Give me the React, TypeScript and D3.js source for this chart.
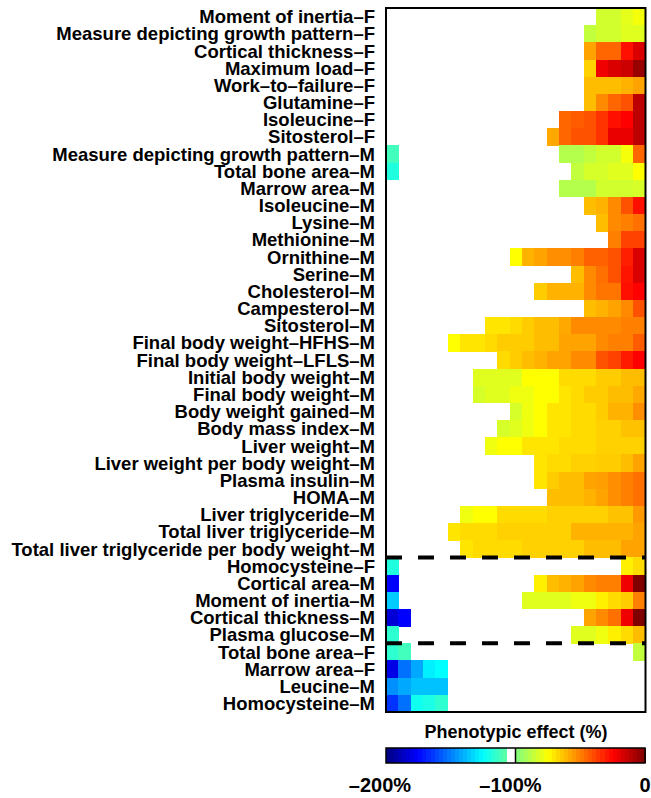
import React from "react";
import * as d3 from "d3";

const _ = null;

// phenotype rows, top to bottom
const phenotypes = [
  "Moment of inertia–F",
  "Measure depicting growth pattern–F",
  "Cortical thickness–F",
  "Maximum load–F",
  "Work–to–failure–F",
  "Glutamine–F",
  "Isoleucine–F",
  "Sitosterol–F",
  "Measure depicting growth pattern–M",
  "Total bone area–M",
  "Marrow area–M",
  "Isoleucine–M",
  "Lysine–M",
  "Methionine–M",
  "Ornithine–M",
  "Serine–M",
  "Cholesterol–M",
  "Campesterol–M",
  "Sitosterol–M",
  "Final body weight–HFHS–M",
  "Final body weight–LFLS–M",
  "Initial body weight–M",
  "Final body weight–M",
  "Body weight gained–M",
  "Body mass index–M",
  "Liver weight–M",
  "Liver weight per body weight–M",
  "Plasma insulin–M",
  "HOMA–M",
  "Liver triglyceride–M",
  "Total liver triglyceride–M",
  "Total liver triglyceride per body weight–M",
  "Homocysteine–F",
  "Cortical area–M",
  "Moment of inertia–M",
  "Cortical thickness–M",
  "Plasma glucose–M",
  "Total bone area–F",
  "Marrow area–F",
  "Leucine–M",
  "Homocysteine–M",
];

const columns = d3.range(21);

// phenotypic effect (%) per row and column, null = no effect
const effects: (number | null)[][] = [
  [_, _, _, _, _, _, _, _, _, _, _, _, _, _, _, _, _, -84, -84, -80, -77],
  [_, _, _, _, _, _, _, _, _, _, _, _, _, _, _, _, -87, -84, -84, -81, -81],
  [_, _, _, _, _, _, _, _, _, _, _, _, _, _, _, _, -57, -45, -45, -28, -18],
  [_, _, _, _, _, _, _, _, _, _, _, _, _, _, _, _, -66, -22, -18, -15, -5],
  [_, _, _, _, _, _, _, _, _, _, _, _, _, _, _, _, -62, -62, -62, -60, -57],
  [_, _, _, _, _, _, _, _, _, _, _, _, _, _, _, _, -62, -52, -45, -41, -12],
  [_, _, _, _, _, _, _, _, _, _, _, _, _, _, -45, -43, -41, -35, -28, -25, -12],
  [_, _, _, _, _, _, _, _, _, _, _, _, _, -58, -45, -41, -41, -35, -21, -21, -12],
  [-112, _, _, _, _, _, _, _, _, _, _, _, _, _, -90, -90, -87, -84, -84, -77, -45],
  [-119, _, _, _, _, _, _, _, _, _, _, _, _, _, _, -87, -83, -83, -81, -81, -75],
  [_, _, _, _, _, _, _, _, _, _, _, _, _, _, -90, -90, -90, -84, -84, -84, -83],
  [_, _, _, _, _, _, _, _, _, _, _, _, _, _, _, _, -62, -60, -52, -41, -28],
  [_, _, _, _, _, _, _, _, _, _, _, _, _, _, _, _, _, -62, -52, -50, -47],
  [_, _, _, _, _, _, _, _, _, _, _, _, _, _, _, _, _, _, -50, -38, -38],
  [_, _, _, _, _, _, _, _, _, _, -75, -60, -57, -53, -53, -50, -44, -44, -41, -31, -18],
  [_, _, _, _, _, _, _, _, _, _, _, _, _, _, _, -62, -52, -47, -41, -29, -18],
  [_, _, _, _, _, _, _, _, _, _, _, _, -65, -60, -60, -60, -52, -48, -48, -28, -25],
  [_, _, _, _, _, _, _, _, _, _, _, _, _, _, _, _, -62, -60, -57, -52, -41],
  [_, _, _, _, _, _, _, _, -70, -70, -68, -65, -62, -62, -58, -52, -52, -52, -52, -50, -50],
  [_, _, _, _, _, -75, -70, -70, -68, -65, -65, -65, -62, -62, -57, -57, -57, -52, -50, -50, -43],
  [_, _, _, _, _, _, _, _, _, -68, -65, -62, -60, -57, -57, -52, -52, -41, -38, -30, -25],
  [_, _, _, _, _, _, _, -81, -81, -81, -81, -75, -75, -75, -68, -68, -68, -65, -65, -62, -62],
  [_, _, _, _, _, _, _, -83, -81, -81, -78, -78, -75, -75, -70, -68, -65, -65, -62, -62, -58],
  [_, _, _, _, _, _, _, _, _, _, -83, -78, -75, -70, -70, -68, -68, -65, -60, -60, -53],
  [_, _, _, _, _, _, _, _, _, -83, -81, -78, -75, -70, -70, -68, -68, -66, -66, -63, -63],
  [_, _, _, _, _, _, _, _, -78, -75, -75, -70, -70, -70, -68, -68, -68, -66, -66, -66, -66],
  [_, _, _, _, _, _, _, _, _, _, _, _, -70, -68, -68, -66, -66, -65, -65, -62, -57],
  [_, _, _, _, _, _, _, _, _, _, _, _, -70, -65, -62, -62, -57, -56, -53, -50, -47],
  [_, _, _, _, _, _, _, _, _, _, _, _, _, -62, -62, -62, -60, -57, -53, -50, -47],
  [_, _, _, _, _, _, -78, -75, -75, -68, -68, -68, -68, -66, -66, -66, -66, -66, -63, -63, -55],
  [_, _, _, _, _, -70, -68, -68, -68, -66, -66, -66, -66, -66, -66, -60, -60, -60, -60, -60, -57],
  [_, _, _, _, _, _, -70, -68, -68, -68, -68, -66, -66, -66, -66, -66, -62, -62, -62, -57, -57],
  [-119, _, _, _, _, _, _, _, _, _, _, _, _, _, _, _, _, _, _, -72, -68],
  [-175, _, _, _, _, _, _, _, _, _, _, _, -72, -62, -60, -57, -52, -50, -50, -22, 0],
  [-135, _, _, _, _, _, _, _, _, _, _, -81, -81, -81, -81, -78, -78, -72, -68, -65, -50],
  [-183, -175, _, _, _, _, _, _, _, _, _, _, _, _, _, _, -57, -52, -47, -22, 0],
  [-116, _, _, _, _, _, _, _, _, _, _, _, _, _, _, -81, -81, -78, -72, -68, -62],
  [-116, -112, _, _, _, _, _, _, _, _, _, _, _, _, _, _, _, _, _, _, -87],
  [-180, -153, -142, -128, -125, _, _, _, _, _, _, _, _, _, _, _, _, _, _, _, _],
  [-147, -142, -137, -137, -137, _, _, _, _, _, _, _, _, _, _, _, _, _, _, _, _],
  [-165, -153, -122, -120, -116, _, _, _, _, _, _, _, _, _, _, _, _, _, _, _, _],
];

// dashed separator drawn under these rows
const separatorsAfter = ["Total liver triglyceride per body weight–M", "Plasma glucose–M"];

const colorTicks = [-200, -100, 0];
const colorTickLabels = ["–200%", "–100%", "0"];

const font = "'Liberation Sans', Arial, Helvetica, sans-serif";

function jet(t: number) {
  const c = (v: number) => Math.round(255 * Math.max(0, Math.min(1, v)));
  const r = c(Math.min(4 * t - 1.5, -4 * t + 4.5));
  const g = c(Math.min(4 * t - 0.5, -4 * t + 3.5));
  const b = c(Math.min(4 * t + 0.5, -4 * t + 2.5));
  return `rgb(${r},${g},${b})`;
}

const toT = d3.scaleLinear().domain([-200, 0]).range([0, 1]).clamp(true);
function effectColor(v: number) {
  if (v > -107 && v < -99) return "#ffffff";
  return jet(toT(v));
}

export default function App() {
  const width = 651;
  const height = 798;

  const x = d3.scaleBand<number>().domain(columns).range([386, 645.5]);
  const y = d3.scaleBand<string>().domain(phenotypes).range([8, 712]);

  const cbar = d3.scaleLinear().domain([-200, 0]).range([386, 645]);
  const steps = d3.range(64);
  const stepW = (cbar.range()[1] - cbar.range()[0]) / steps.length;

  const cells: { row: string; col: number; v: number }[] = [];
  phenotypes.forEach((p, i) => {
    effects[i].forEach((v, j) => {
      if (v !== null) cells.push({ row: p, col: columns[j], v });
    });
  });

  return (
    <svg width={width} height={height} style={{ position: "absolute", left: 0, top: 0, background: "#fff" }}>
      <g shapeRendering="crispEdges">
        {cells.map((d, i) => (
          <rect key={i} x={x(d.col)} y={y(d.row)} width={x.bandwidth() + 0.5} height={y.bandwidth() + 0.5}
            fill={effectColor(d.v)} />
        ))}
      </g>

      {separatorsAfter.map((s) => {
        const yy = (y(s) as number) + y.bandwidth();
        return (
          <line key={s} x1={x.range()[0]} x2={x.range()[1]} y1={yy} y2={yy}
            stroke="#000" strokeWidth={4} strokeDasharray="16 16" />
        );
      })}

      <rect x={386} y={8} width={259.5} height={704} fill="none" stroke="#000" strokeWidth={2} />

      {phenotypes.map((p) => (
        <text key={p} x={375} y={(y(p) as number) + y.bandwidth() / 2} dy="0.36em" textAnchor="end"
          fontFamily={font} fontWeight="bold" fontSize={18.5}>
          {p}
        </text>
      ))}

      <text x={516} y={738} textAnchor="middle" fontFamily={font} fontWeight="bold" fontSize={18}>
        Phenotypic effect (%)
      </text>

      <g shapeRendering="crispEdges">
        {steps.map((s) => {
          const v0 = cbar.invert(386 + s * stepW);
          const v1 = cbar.invert(386 + (s + 1) * stepW);
          return (
            <rect key={s} x={cbar(v0)} y={748} width={stepW + 0.5} height={15}
              fill={effectColor((v0 + v1) / 2)} />
          );
        })}
      </g>
      <line x1={cbar(-100)} x2={cbar(-100)} y1={748} y2={763} stroke="#000" strokeWidth={1.5} />
      <rect x={386} y={748} width={259} height={15} fill="none" stroke="#000" strokeWidth={1.5} />

      {colorTicks.map((t, i) => (
        <text key={t} x={cbar(t) + [-6, -5, 0][i]} y={792} textAnchor="middle" fontFamily={font}
          fontWeight="bold" fontSize={20}>
          {colorTickLabels[i]}
        </text>
      ))}
    </svg>
  );
}
